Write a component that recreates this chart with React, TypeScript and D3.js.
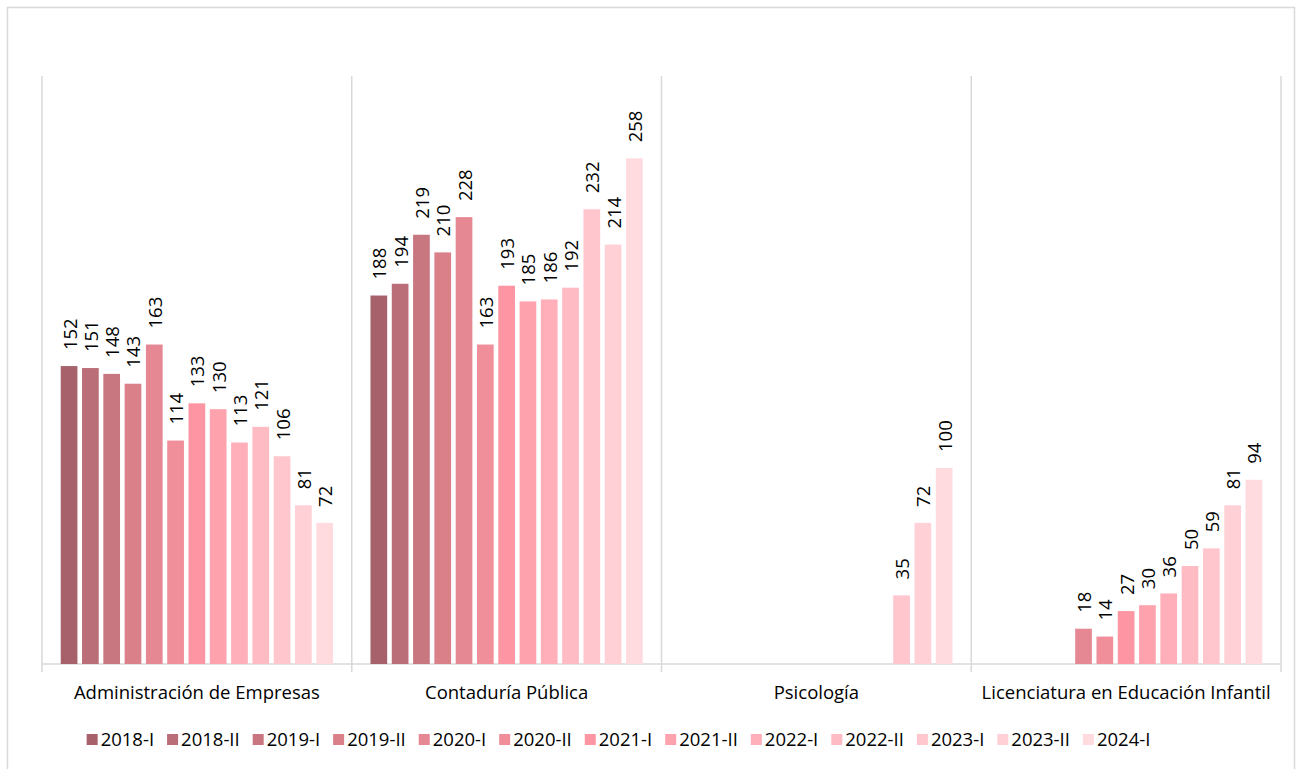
import React, { useEffect, useRef } from "react";
import * as d3 from "d3";

const categories = [
  "Administración de Empresas",
  "Contaduría Pública",
  "Psicología",
  "Licenciatura en Educación Infantil",
];

const periods = [
  "2018-I", "2018-II", "2019-I", "2019-II", "2020-I", "2020-II", "2021-I",
  "2021-II", "2022-I", "2022-II", "2023-I", "2023-II", "2024-I",
];

const administracion = [152, 151, 148, 143, 163, 114, 133, 130, 113, 121, 106, 81, 72];
const contaduria = [188, 194, 219, 210, 228, 163, 193, 185, 186, 192, 232, 214, 258];
const psicologia = [null, null, null, null, null, null, null, null, null, null, 35, 72, 100];
const licenciatura = [null, null, null, null, 18, 14, 27, 30, 36, 50, 59, 81, 94];

const colors = [
  "#a6616b", "#ba6e77", "#c87780", "#d98089", "#e58893", "#f08f9a", "#fd96a2",
  "#fea3ad", "#ffafb9", "#ffbbc4", "#ffc6cd", "#ffd1d7", "#ffdbdf",
];

const yMax = 300;

export default function App() {
  const ref = useRef<SVGSVGElement>(null);

  useEffect(() => {
    document.body.style.margin = "0";
    const svg = d3.select(ref.current);
    svg.selectAll("*").remove();
    const font = "'Open Sans', sans-serif";
    const grid = "#d9d9d9";

    const seriesByCat = [administracion, contaduria, psicologia, licenciatura];

    const x0 = d3.scaleBand<string>().domain(categories).range([42, 1281]).padding(0);
    const x1 = d3
      .scaleBand<string>()
      .domain(periods)
      .range([0, x0.bandwidth()])
      .paddingInner(0.216)
      .paddingOuter(0.88);
    const y = d3.scaleLinear().domain([0, yMax]).range([664, 76]);

    // outer border
    svg
      .append("rect")
      .attr("x", 7.5)
      .attr("y", 7.5)
      .attr("width", 1287)
      .attr("height", 780)
      .attr("fill", "#fff")
      .attr("stroke", grid)
      .attr("stroke-width", 1.5);

    // vertical separators
    const seps = categories.map((c) => x0(c) as number).concat([x0.range()[1]]);
    svg
      .selectAll("line.sep")
      .data(seps)
      .enter()
      .append("line")
      .attr("x1", (d) => d)
      .attr("x2", (d) => d)
      .attr("y1", y(yMax))
      .attr("y2", 672)
      .attr("stroke", grid)
      .attr("stroke-width", 1.5);

    // baseline
    svg
      .append("line")
      .attr("x1", x0.range()[0])
      .attr("x2", x0.range()[1])
      .attr("y1", y(0))
      .attr("y2", y(0))
      .attr("stroke", grid)
      .attr("stroke-width", 1.5);

    // bars
    categories.forEach((cat, ci) => {
      const g = svg.append("g").attr("transform", `translate(${x0(cat)},0)`);
      const vals = seriesByCat[ci];
      periods.forEach((p, pi) => {
        const v = vals[pi];
        if (v == null) return;
        const bx = x1(p) as number;
        g.append("rect")
          .attr("x", bx)
          .attr("y", y(v))
          .attr("width", x1.bandwidth())
          .attr("height", y(0) - y(v))
          .attr("fill", colors[pi]);
        g.append("text")
          .attr(
            "transform",
            `translate(${bx + x1.bandwidth() / 2 + 1},${y(v) - 16}) rotate(-90)`
          )
          .attr("text-anchor", "start")
          .attr("dy", "0.35em")
          .attr("font-family", font)
          .attr("font-size", 18.5)
          .attr("fill", "#000")
          .text(String(v));
      });
      svg
        .append("text")
        .attr("x", (x0(cat) as number) + x0.bandwidth() / 2)
        .attr("y", 699)
        .attr("text-anchor", "middle")
        .attr("font-family", font)
        .attr("font-size", 18.5)
        .attr("fill", "#000")
        .text(cat);
    });

    // legend
    const lg = svg.append("g");
    let cx = 0;
    const gap = 13;
    periods.forEach((p, i) => {
      const item = lg.append("g").attr("transform", `translate(${cx},0)`);
      item
        .append("rect")
        .attr("x", 0)
        .attr("y", 734)
        .attr("width", 11)
        .attr("height", 11)
        .attr("fill", colors[i]);
      const t = item
        .append("text")
        .attr("x", 14)
        .attr("y", 746)
        .attr("font-family", font)
        .attr("font-size", 18.5)
        .attr("fill", "#000")
        .text(p);
      const w = (t.node() as SVGTextElement).getComputedTextLength();
      cx += 14 + w + gap;
    });
    const total = cx - gap;
    const start = 618.5 - total / 2;
    lg.attr("transform", `translate(${start},0)`);
  }, []);

  return <svg ref={ref} width={1300} height={769} style={{ display: "block" }} />;
}
